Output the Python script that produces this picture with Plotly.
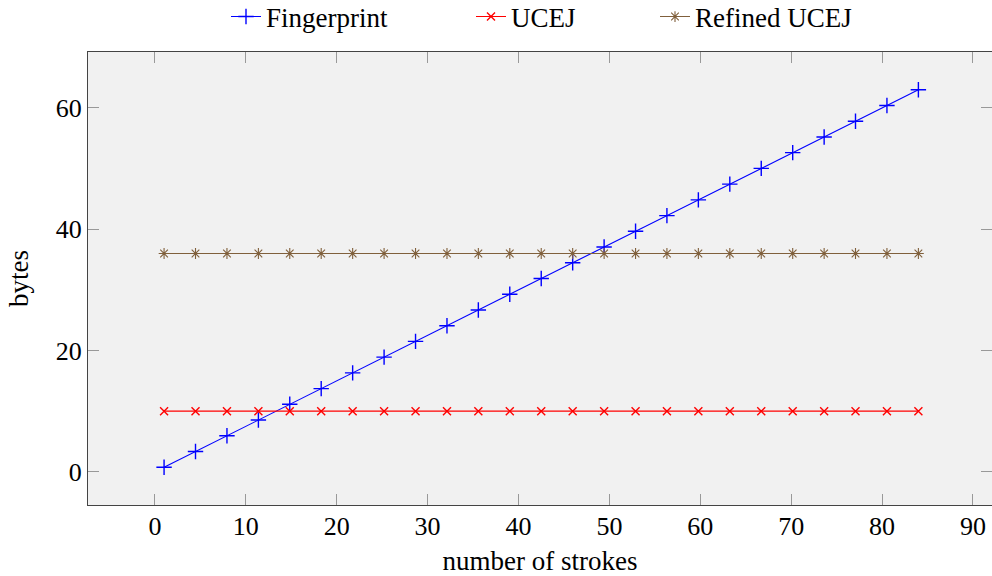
import plotly.graph_objects as go

strokes = [1, 4.46, 7.92, 11.38, 14.83, 18.29, 21.75, 25.21, 28.67, 32.13, 35.58, 39.04,
           42.5, 45.96, 49.42, 52.88, 56.33, 59.79, 63.25, 66.71, 70.17, 73.63, 77.08, 80.54, 84]
fingerprint = [0.75, 3.34, 5.94, 8.53, 11.13, 13.72, 16.31, 18.91, 21.5, 24.09, 26.69, 29.28,
               31.88, 34.47, 37.06, 39.66, 42.25, 44.84, 47.44, 50.03, 52.63, 55.22, 57.81, 60.41, 63]
ucej = [10] * 25
refined_ucej = [36] * 25

x_ticks = [0, 10, 20, 30, 40, 50, 60, 70, 80, 90]
y_ticks = [0, 20, 40, 60]

FONT = "Liberation Serif"
TXT = 27
TICK = 26
BLUE = "#0000ff"
RED = "#ff0000"
BROWN = "#80603c"

fig = go.Figure()
fig.add_trace(go.Scatter(x=strokes, y=fingerprint, name="Fingerprint", mode="lines+markers",
                         legend="legend",
                         line=dict(color=BLUE, width=1.1),
                         marker=dict(symbol="cross-thin", size=11, color=BLUE,
                                     line=dict(color=BLUE, width=1.4))))
fig.add_trace(go.Scatter(x=strokes, y=ucej, name="UCEJ", mode="lines+markers",
                         legend="legend2",
                         line=dict(color=RED, width=1.1),
                         marker=dict(symbol="x-thin", size=8, color=RED,
                                     line=dict(color=RED, width=1.4))))
fig.add_trace(go.Scatter(x=strokes, y=refined_ucej, name="Refined UCEJ", mode="lines+markers",
                         legend="legend3",
                         line=dict(color=BROWN, width=1.1),
                         marker=dict(symbol="asterisk", size=9, color=BROWN,
                                     line=dict(color=BROWN, width=1.1))))

axis_common = dict(showgrid=False, zeroline=False, showline=True, mirror="allticks",
                   linecolor="#444444", linewidth=1.2, ticks="inside", ticklen=11,
                   tickcolor="#999999", tickwidth=1.3, automargin=False,
                   tickfont=dict(family=FONT, size=TICK, color="#000000"))

fig.update_xaxes(range=[-7.37, 92.1], tickvals=x_ticks, ticklabelstandoff=-2,
                 title=dict(text="number of strokes", font=dict(family=FONT, size=TXT, color="#000"),
                            standoff=10),
                 **axis_common)
fig.update_yaxes(range=[-5.475, 69.225], tickvals=y_ticks,
                 title=dict(text="bytes", font=dict(family=FONT, size=TXT, color="#000"),
                            standoff=19),
                 **axis_common)

def leg(xpx):
    return dict(orientation="h", x=xpx / 992, xanchor="left", xref="container",
                y=1 - 17 / 576, yanchor="middle", yref="container",
                font=dict(family=FONT, size=TXT), bgcolor="rgba(0,0,0,0)",
                itemwidth=30)

fig.update_layout(
    width=992, height=576,
    margin=dict(l=88, r=0, t=52, b=71, autoexpand=False),
    plot_bgcolor="#f1f1f1", paper_bgcolor="#ffffff",
    font=dict(family=FONT, size=TXT, color="#000"),
    showlegend=True,
    legend=leg(226),
    legend2=leg(471),
    legend3=leg(655),
)

fig.write_html("out.html", config={"displayModeBar": False})

with open("out.html", "r", encoding="utf-8") as f:
    html = f.read()
html = html.replace("<head>", "<head><style>html,body{margin:0;padding:0;overflow:hidden;}</style>", 1)
with open("out.html", "w", encoding="utf-8") as f:
    f.write(html)
